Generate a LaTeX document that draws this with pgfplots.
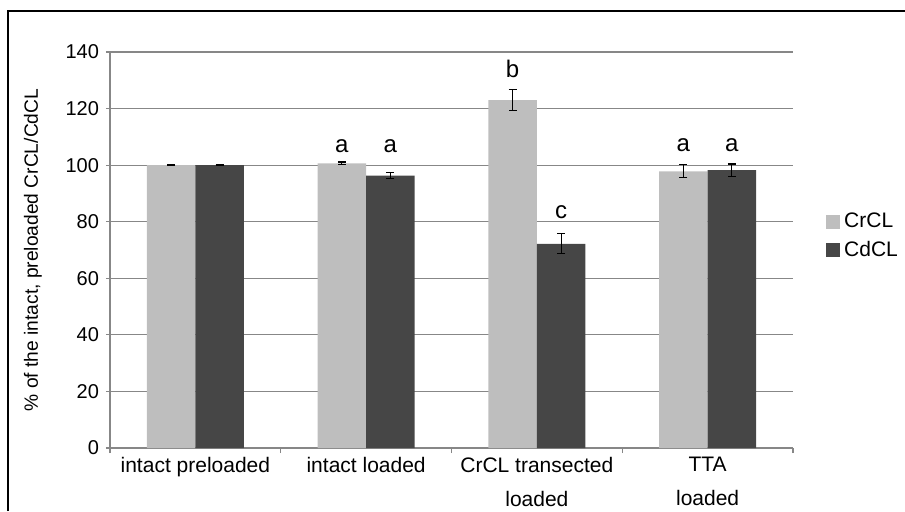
\documentclass[border=0pt]{standalone}
\usepackage{fontspec}
\setmainfont{Liberation Sans}
\usepackage{pgfplots}
\usepackage{pgfplotstable}
\pgfplotsset{compat=1.18}
\definecolor{lightbar}{RGB}{190,190,190}
\definecolor{darkbar}{RGB}{70,70,70}
\definecolor{gridc}{RGB}{135,135,135}

\pgfplotstableread{
x y e
-0.142 100.0 0.2
0.858 100.6 0.5
1.858 123.0 3.7
2.858 97.8 2.3
}\crcl
\pgfplotstableread{
x y e
0.142 100.0 0.2
1.142 96.3 1.1
2.142 72.2 3.5
3.142 98.2 2.2
}\cdcl

\begin{document}
\begin{tikzpicture}
\path[use as bounding box] (-55pt,-31.5pt) rectangle (397.5pt,224pt);
\draw[line width=1pt] (-51pt,-31.5pt) -- (-51pt,218.75pt) -- (397.5pt,218.75pt);
\begin{axis}[
  at={(0,0)}, anchor=south west,
  scale only axis, width=341.5pt, height=198pt,
  xmin=-0.5, xmax=3.5, ymin=0, ymax=140,
  axis x line*=bottom, axis y line*=left,
  axis line style={gridc, line width=0.6pt, -},
  ytick={0,20,...,140},
  ymajorgrids, grid style={gridc, line width=0.6pt},
  major tick length=2pt, minor tick length=2.5pt, tick align=outside,
  tick style={gridc, line width=0.6pt},
  xtick={0,1,2,3},
  xticklabels={intact preloaded, intact loaded, {CrCL transected\\[2pt]loaded}, {TTA\\[2pt]loaded}},
  major x tick style={draw=none},
  minor xtick={-0.5,0.5,1.5,2.5,3.5},
  xticklabel style={align=center, font=\fontsize{10.5}{15}\selectfont, yshift=1pt},
  yticklabel style={font=\fontsize{10}{12}\selectfont},
  /pgf/number format/assume math mode=true,
  ylabel={\% of the intact, preloaded CrCL/CdCL},
  every axis y label/.style={at={(axis description cs:-0.1127,0.5)}, rotate=90, anchor=center, font=\fontsize{9.6}{11}\selectfont},
  legend style={draw=none, fill=none, at={(axis description cs:1.048,0.535)}, anchor=west,
    font=\fontsize{10.5}{12.6}\selectfont, inner sep=0pt, row sep=1.5pt},
  legend cell align=left,
  legend image code/.code={\fill[#1] (0pt,-3.5pt) rectangle (7pt,3.5pt);},
]
\addplot[ybar, bar width=0.284, bar shift=0, fill=lightbar, draw=none,
  error bars/.cd, y dir=both, y explicit,
  error bar style={black, line width=0.6pt},
  error mark options={rotate=90, black, mark size=2pt, line width=0.6pt}]
  table[x=x, y=y, y error=e] {\crcl};
\addlegendentry{CrCL}
\addplot[ybar, bar width=0.284, bar shift=0, fill=darkbar, draw=none,
  error bars/.cd, y dir=both, y explicit,
  error bar style={black, line width=0.6pt},
  error mark options={rotate=90, black, mark size=2pt, line width=0.6pt}]
  table[x=x, y=y, y error=e] {\cdcl};
\addlegendentry{CdCL}
\begin{scope}[every node/.style={anchor=base, font=\fontsize{12}{14}\selectfont}]
\node at (axis cs:0.858,104.6) {a};
\node at (axis cs:1.142,104.6) {a};
\node at (axis cs:1.858,131.0) {b};
\node at (axis cs:2.142,81.1) {c};
\node at (axis cs:2.858,105.0) {a};
\node at (axis cs:3.142,105.0) {a};
\end{scope}
\end{axis}
\end{tikzpicture}
\end{document}
